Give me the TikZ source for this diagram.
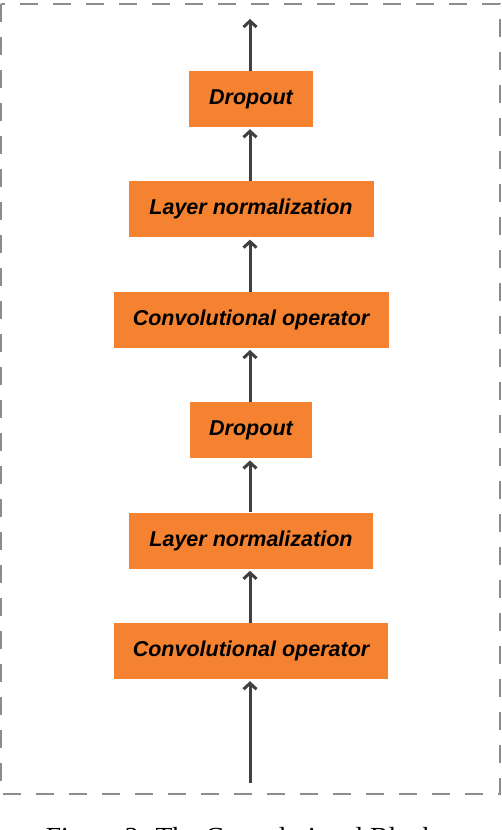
\documentclass[tikz,border=0pt]{standalone}
\usepackage{fontspec}
\setsansfont{Liberation Sans}
\newfontfamily\capfont{Liberation Serif}
\usetikzlibrary{arrows.meta,positioning}

\definecolor{blockorange}{RGB}{244,130,48}
\definecolor{arrowgray}{RGB}{64,64,66}
\definecolor{framegray}{RGB}{140,140,140}

\begin{document}
\begin{tikzpicture}[
  x=1pt, y=-1pt,
  layer/.style={fill=blockorange, minimum height=56pt, inner sep=0pt, align=center,
    font=\sffamily\bfseries\itshape\fontsize{21.5}{24}\selectfont},
  arr/.style={-{Straight Barb[length=6pt,width=13pt,line width=3pt]}, line width=3pt, arrowgray, shorten >=2pt},
  node distance=54pt
]
\useasboundingbox (0,0) rectangle (502,830);

% outer frame
\draw[framegray, line width=1.6pt, dash pattern=on 18pt off 15pt] (1,4) rectangle (500,794);

% block, from input (bottom) to output (top)
\node[layer, minimum width=274pt] (conv2) at (251,651) {Convolutional operator};
\node[layer, minimum width=244pt, above=of conv2] (norm2) {Layer normalization};
\node[layer, minimum width=122pt, above=of norm2] (drop2) {Dropout};
\node[layer, minimum width=275pt, above=of drop2] (conv1) {Convolutional operator};
\node[layer, minimum width=245pt, above=of conv1] (norm1) {Layer normalization};
\node[layer, minimum width=124pt, above=of norm1] (drop1) {Dropout};

\coordinate (in) at (250,783);
\coordinate (out) at (250,19);

\draw[arr] (in) -- (conv2.south -| in);
\draw[arr] (conv2.north -| in) -- (norm2.south -| in);
\draw[arr] (norm2.north -| in) -- (drop2.south -| in);
\draw[arr] (drop2.north -| in) -- (conv1.south -| in);
\draw[arr] (conv1.north -| in) -- (norm1.south -| in);
\draw[arr] (norm1.north -| in) -- (drop1.south -| in);
\draw[arr, shorten >=0pt] (drop1.north -| in) -- (out);

\node[anchor=base, inner sep=0pt, font=\capfont\fontsize{27.6}{30}\selectfont] (caption) at (241,846) {Figure 2: The Convolutional Block};
\end{tikzpicture}
\end{document}
